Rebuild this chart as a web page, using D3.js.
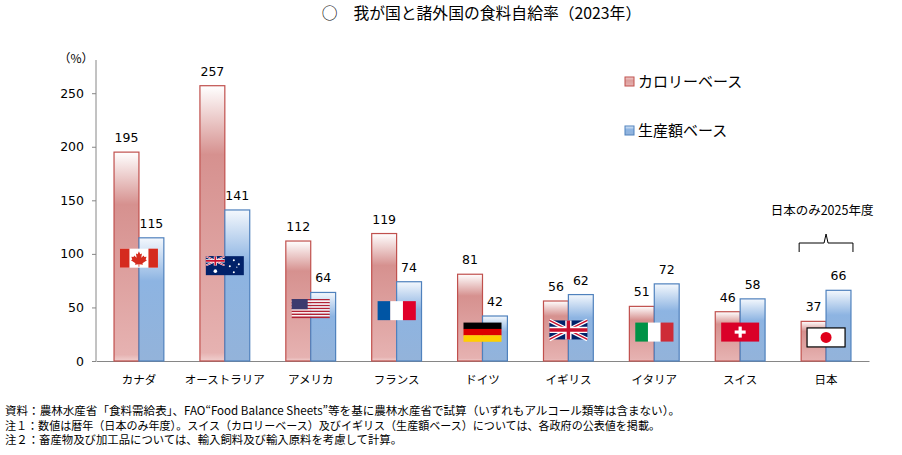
<!DOCTYPE html>
<html lang="ja">
<head>
<meta charset="UTF-8">
<title>我が国と諸外国の食料自給率</title>
<style>
  body { margin: 0; background: #fff; }
  svg { display: block; }
  .jp { font-family: "Noto Sans CJK JP", "Noto Sans", sans-serif; fill: #000; }
  .num { font-family: "DejaVu Sans", Verdana, sans-serif; fill: #000; }
</style>
</head>
<body>
<div id="chart"></div>
<script src="https://d3js.org/d3.v7.min.js"></script>
<script>
// data
const countries = ["カナダ", "オーストラリア", "アメリカ", "フランス", "ドイツ", "イギリス", "イタリア", "スイス", "日本"];
const flags = ["ca", "au", "us", "fr", "de", "gb", "it", "ch", "jp"];
const calorieBase = [195, 257, 112, 119, 81, 56, 51, 46, 37];
const productionBase = [115, 141, 64, 74, 42, 62, 72, 58, 66];
// where the flag sits, in % units
const flagLevel = [96, 89, 49, 47, 27, 29, 27, 27, 22];
const yTicks = [0, 50, 100, 150, 200, 250];
const seriesNames = ["カロリーベース", "生産額ベース"];
const notes = [
  "資料：農林水産省「食料需給表」、FAO“Food Balance Sheets”等を基に農林水産省で試算（いずれもアルコール類等は含まない）。",
  "注１：数値は暦年（日本のみ年度）。スイス（カロリーベース）及びイギリス（生産額ベース）については、各政府の公表値を掲載。",
  "注２：畜産物及び加工品については、輸入飼料及び輸入原料を考慮して計算。"
];

const W = 902, H = 455;
const svg = d3.select("#chart").append("svg").attr("width", W).attr("height", H);

// gradients
const defs = svg.append("defs");
function grad(id, stops) {
  const g = defs.append("linearGradient").attr("id", id)
    .attr("x1", 0).attr("y1", 0).attr("x2", 0).attr("y2", 1);
  stops.forEach(s => g.append("stop").attr("offset", s[0]).attr("stop-color", s[1]));
}
grad("calGrad", [["0%", "#ffffff"], ["25%", "#d6918f"], ["97%", "#e6b2b1"], ["100%", "#f0cfce"]]);
grad("prodGrad", [["0%", "#f4f8fd"], ["35%", "#8db4e2"], ["100%", "#93b3da"]]);
grad("calLeg", [["0%", "#f2d0cf"], ["40%", "#dc9e9c"], ["100%", "#e6b2b1"]]);
grad("prodLeg", [["0%", "#e3ecf8"], ["40%", "#8db4e2"], ["100%", "#93b3da"]]);

// scales
const x0 = d3.scaleBand().domain(countries).range([96, 869]).padding(0);
const groupW = x0.bandwidth() * 0.58;
const x1 = d3.scaleBand().domain([0, 1]).range([0, groupW]);
const y = d3.scaleLinear().domain([0, 281]).range([361, 60]);

// title
svg.append("text").attr("class", "jp").attr("x", 481.5).attr("y", 19)
  .attr("text-anchor", "middle").attr("font-size", 15.8)
  .text("○　我が国と諸外国の食料自給率（2023年）");

// y axis
const yAxis = svg.append("g").attr("transform", "translate(96,0)")
  .call(d3.axisLeft(y).tickValues(yTicks).tickSize(4).tickPadding(8));
yAxis.select(".domain").attr("stroke", "#868686").attr("d", `M0,${y(0)}V60`);
yAxis.selectAll(".tick line").attr("stroke", "#868686");
yAxis.selectAll(".tick text").attr("class", "num").attr("font-size", 12.5).attr("fill", "#000");
svg.append("text").attr("class", "jp").attr("x", 76).attr("y", 63)
  .attr("text-anchor", "middle").attr("font-size", 12).text("（%）");

// x axis
const xAxis = svg.append("g").attr("transform", `translate(0,${y(0)})`)
  .call(d3.axisBottom(x0).tickSize(0).tickPadding(15));
xAxis.select(".domain").attr("stroke", "#868686");
xAxis.selectAll(".tick text").attr("class", "jp").attr("font-size", 11.5).attr("fill", "#000")
  .attr("font-family", null);

// bars
const rows = countries.map((c, i) => ({ c, i, vals: [calorieBase[i], productionBase[i]] }));
const groups = svg.append("g").selectAll("g").data(rows).join("g")
  .attr("transform", d => `translate(${x0(d.c) + (x0.bandwidth() - groupW) / 2},0)`);

groups.selectAll("rect").data(d => d.vals.map((v, k) => ({ v, k }))).join("rect")
  .attr("x", d => x1(d.k))
  .attr("y", d => y(d.v))
  .attr("width", x1.bandwidth())
  .attr("height", d => y(0) - y(d.v))
  .attr("fill", d => d.k === 0 ? "url(#calGrad)" : "url(#prodGrad)")
  .attr("stroke", d => d.k === 0 ? "#c0504d" : "#4f81bd")
  .attr("stroke-width", 1.2);

groups.selectAll("text.val").data(d => d.vals.map((v, k) => ({ v, k }))).join("text")
  .attr("class", "val num")
  .attr("x", d => x1(d.k) + x1.bandwidth() / 2)
  .attr("y", d => y(d.v) - 10)
  .attr("text-anchor", "middle")
  .attr("font-size", 12.5)
  .text(d => d.v);

// flags
const FW = 38, FH = 19;
function unionJack(g, w, h) {
  g.append("rect").attr("width", w).attr("height", h).attr("fill", "#012169");
  const diag = `M0,0L${w},${h}M${w},0L0,${h}`;
  g.append("path").attr("d", diag).attr("stroke", "#fff").attr("stroke-width", h * 0.2);
  g.append("path").attr("d", diag).attr("stroke", "#c8102e").attr("stroke-width", h * 0.08);
  const cross = `M${w / 2},0V${h}M0,${h / 2}H${w}`;
  g.append("path").attr("d", cross).attr("stroke", "#fff").attr("stroke-width", h * 0.33);
  g.append("path").attr("d", cross).attr("stroke", "#c8102e").attr("stroke-width", h * 0.18);
}
const drawFlag = {
  ca(g) {
    g.append("rect").attr("width", FW).attr("height", FH).attr("fill", "#fff");
    g.append("rect").attr("width", FW / 4).attr("height", FH).attr("fill", "#d52b1e");
    g.append("rect").attr("x", FW * 3 / 4).attr("width", FW / 4).attr("height", FH).attr("fill", "#d52b1e");
    g.append("path").attr("fill", "#d52b1e")
      .attr("d", "M19,2.5L20.3,5.5L22,4.8L21.3,9L23.8,6.8L24.4,8.4L26.6,8L25.7,10.8L27,11.5L22.5,14.5L23,16L19.4,15.5V18H18.6V15.5L15,16L15.5,14.5L11,11.5L12.3,10.8L11.4,8L13.6,8.4L14.2,6.8L16.7,9L16,4.8L17.7,5.5Z");
  },
  au(g) {
    g.append("rect").attr("width", FW).attr("height", FH).attr("fill", "#012169");
    const uj = g.append("g");
    uj.append("clipPath").attr("id", "ujclip").append("rect").attr("width", FW / 2).attr("height", FH / 2);
    unionJack(uj.append("g").attr("clip-path", "url(#ujclip)"), FW / 2, FH / 2);
    [[9.5, 15, 1.8], [28, 4, 1], [33, 8, 1], [24, 10, 1], [28, 16, 1], [31, 11, 0.6]].forEach(s =>
      g.append("circle").attr("cx", s[0]).attr("cy", s[1]).attr("r", s[2]).attr("fill", "#fff"));
  },
  us(g) {
    for (let k = 0; k < 13; k++) {
      g.append("rect").attr("y", k * FH / 13).attr("width", FW).attr("height", FH / 13 + 0.1)
        .attr("fill", k % 2 ? "#fff" : "#b22234");
    }
    g.append("rect").attr("width", FW * 0.42).attr("height", FH * 7 / 13).attr("fill", "#3c3b6e");
  },
  fr(g) {
    ["#0055a4", "#fff", "#e0002a"].forEach((c, k) =>
      g.append("rect").attr("x", k * FW / 3).attr("width", FW / 3 + 0.2).attr("height", FH).attr("fill", c));
  },
  de(g) {
    ["#000", "#dd0000", "#ffce00"].forEach((c, k) =>
      g.append("rect").attr("y", k * FH / 3).attr("width", FW).attr("height", FH / 3 + 0.2).attr("fill", c));
  },
  gb(g) { unionJack(g, FW, FH); },
  it(g) {
    ["#009246", "#fff", "#ce2b37"].forEach((c, k) =>
      g.append("rect").attr("x", k * FW / 3).attr("width", FW / 3 + 0.2).attr("height", FH).attr("fill", c));
  },
  ch(g) {
    g.append("rect").attr("width", FW).attr("height", FH).attr("fill", "#da0028");
    g.append("rect").attr("x", FW / 2 - 1.6).attr("y", 4).attr("width", 3.2).attr("height", FH - 8).attr("fill", "#fff");
    g.append("rect").attr("x", FW / 2 - 5.5).attr("y", FH / 2 - 1.6).attr("width", 11).attr("height", 3.2).attr("fill", "#fff");
  },
  jp(g) {
    g.append("rect").attr("width", FW).attr("height", FH).attr("fill", "#fff")
      .attr("stroke", "#000").attr("stroke-width", 1.2);
    g.append("circle").attr("cx", FW / 2).attr("cy", FH / 2).attr("r", 5.5).attr("fill", "#e0001b");
  }
};
groups.each(function (d) {
  const g = d3.select(this).append("g")
    .attr("transform", `translate(${groupW / 2 - FW / 2},${y(flagLevel[d.i]) - FH / 2})`);
  drawFlag[flags[d.i]](g);
});

// Japan bracket
const jx = x0("日本") + (x0.bandwidth() - groupW) / 2;
svg.append("path")
  .attr("d", `M${jx - 2},252V243H${jx + groupW / 2 - 2}L${jx + groupW / 2},234L${jx + groupW / 2 + 2},243H${jx + groupW + 2}V252`)
  .attr("fill", "none").attr("stroke", "#000").attr("stroke-width", 1);
svg.append("text").attr("class", "jp").attr("x", jx + groupW / 2 - 4).attr("y", 215)
  .attr("text-anchor", "middle").attr("font-size", 12.5).text("日本のみ2025年度");

// legend
const legend = svg.append("g").attr("transform", "translate(625,77)");
seriesNames.forEach((n, k) => {
  const r = legend.append("g").attr("transform", `translate(0,${k * 49})`);
  r.append("rect").attr("width", 9).attr("height", 9)
    .attr("fill", k === 0 ? "url(#calLeg)" : "url(#prodLeg)")
    .attr("stroke", k === 0 ? "#c0504d" : "#4f81bd").attr("stroke-width", 1);
  r.append("text").attr("class", "jp").attr("x", 13).attr("y", 10)
    .attr("font-size", 15).text(n);
});

// footnotes
const noteLen = [675, 655, 397];
notes.forEach((t, k) => {
  svg.append("text").attr("class", "jp").attr("x", 5).attr("y", 415 + k * 14.5)
    .attr("font-size", 11.5)
    .attr("textLength", noteLen[k]).attr("lengthAdjust", "spacingAndGlyphs")
    .text(t);
});
</script>
</body>
</html>
